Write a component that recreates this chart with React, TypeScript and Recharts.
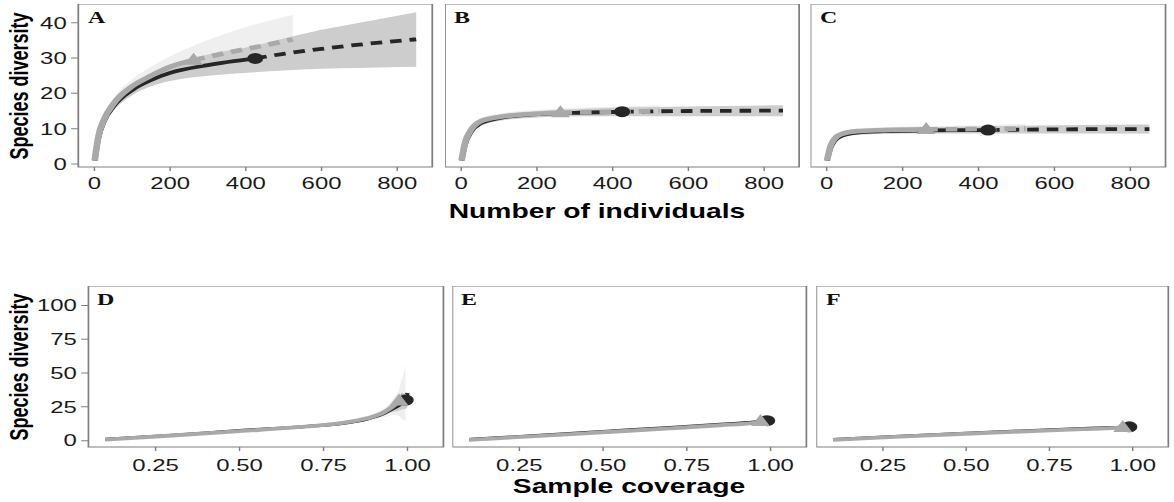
import React from "react";
import { ComposedChart, Line, Area, Scatter, XAxis, YAxis, ReferenceArea } from "recharts";

// the reference is a horizontally stretched ggplot export
const STRETCH = 1.45;
const W = 1174 / STRETCH;
const px = (v: number) => v / STRETCH;

const INK = "#262626";
const GREY = "#a9a9a9";
const BAND_DARK = "#cdcdcd";
const BAND_LIGHT = "#efefef";

// ---- top row: number of individuals ----
const indTicks = [0, 200, 400, 600, 800];
const divTicksTop = [0, 10, 20, 30, 40];

// A
const aBlackX = [1, 10, 25, 50, 100, 150, 200, 300, 425];
const aBlackY = [1, 7, 12, 16.3, 21, 23.8, 25.8, 28, 29.9];
const aBlackExtX = [425, 500, 600, 700, 850];
const aBlackExtY = [29.9, 31.2, 32.6, 33.8, 35.3];
const aBlackBandX = [1, 10, 25, 50, 100, 150, 200, 300, 425, 500, 600, 700, 850];
const aBlackLo = [1, 6.5, 11, 15, 19.5, 22, 23.5, 25, 26, 26.5, 27, 27.2, 27.5];
const aBlackHi = [1, 7.5, 13, 17.5, 22.5, 25.5, 28, 31, 33.5, 35.5, 38, 40, 43];
const aGreyX = [1, 10, 25, 50, 100, 150, 200, 262];
const aGreyY = [1, 7.5, 12.5, 17, 22, 25, 27.5, 29.4];
const aGreyExtX = [262, 350, 450, 524];
const aGreyExtY = [29.4, 31.5, 33.6, 35.3];
const aGreyBandX = [1, 10, 25, 50, 100, 150, 200, 262, 350, 450, 524];
const aGreyLo = [1, 6.5, 11, 15, 19.5, 22, 24, 25.5, 27, 28, 29];
const aGreyHi = [1, 8.5, 13.8, 18.5, 24, 27.5, 30.5, 33.5, 37, 40.3, 42.2];

// B
const bBlackX = [1, 10, 25, 50, 100, 200, 300, 425];
const bBlackY = [1, 5.5, 9, 11.5, 13, 14.1, 14.5, 14.8];
const bBlackExtX = [425, 600, 850];
const bBlackExtY = [14.8, 15, 15.1];
const bBlackBandX = [1, 10, 25, 50, 100, 200, 300, 425, 600, 850];
const bBlackLo = [1, 5, 8.3, 10.7, 12.2, 13.2, 13.5, 13.5, 13.5, 13.5];
const bBlackHi = [1, 6, 9.7, 12.3, 13.8, 15, 15.5, 16, 16.3, 16.6];
const bGreyX = [1, 10, 25, 50, 100, 200, 262];
const bGreyY = [1, 6, 9.5, 12, 13.3, 14.2, 14.5];
const bGreyExtX = [262, 400, 524];
const bGreyExtY = [14.5, 14.8, 15];
const bGreyBandX = [1, 10, 25, 50, 100, 200, 262, 400, 524];
const bGreyLo = [1, 5.3, 8.7, 11, 12.4, 13.3, 13.5, 13.6, 13.7];
const bGreyHi = [1, 6.8, 10.5, 13, 14.3, 15.3, 15.7, 16.2, 16.6];

// C
const cBlackX = [1, 10, 20, 40, 80, 150, 250, 425];
const cBlackY = [1, 4.5, 6.5, 8, 8.9, 9.3, 9.5, 9.6];
const cBlackExtX = [425, 600, 850];
const cBlackExtY = [9.6, 9.8, 9.9];
const cBlackBandX = [1, 10, 20, 40, 80, 150, 250, 425, 600, 850];
const cBlackLo = [1, 4, 6, 7.4, 8.2, 8.5, 8.6, 8.6, 8.6, 8.6];
const cBlackHi = [1, 5, 7, 8.6, 9.6, 10.1, 10.4, 10.7, 11, 11.2];
const cGreyX = [1, 10, 20, 40, 80, 150, 262];
const cGreyY = [1, 5, 7, 8.5, 9.3, 9.6, 9.8];
const cGreyExtX = [262, 400, 524];
const cGreyExtY = [9.8, 9.9, 10];
const cGreyBandX = [1, 10, 20, 40, 80, 150, 262, 400, 524];
const cGreyLo = [1, 4.5, 6.4, 7.8, 8.6, 8.8, 8.9, 8.9, 8.9];
const cGreyHi = [1, 5.5, 7.6, 9.2, 10, 10.4, 10.7, 11, 11.3];

// ---- bottom row: sample coverage ----
const covTicks = [0.25, 0.5, 0.75, 1.0];
const divTicksBottom = [0, 25, 50, 75, 100];

// D
const dBlackX = [0.1, 0.3, 0.5, 0.7, 0.8, 0.88, 0.93, 0.96, 0.98, 0.995];
const dBlackY = [1, 4, 7.5, 10.5, 12.5, 16, 20, 24, 27, 30];
const dBlackExtX = [0.995, 0.998, 1.0];
const dBlackExtY = [30, 33, 35.3];
const dBlackBandX = [0.1, 0.5, 0.7, 0.85, 0.93, 0.95, 0.97, 0.985, 0.998, 1.0];
const dBlackLo = [0.6, 7, 10, 13.5, 19, 21, 22, 23, 24, 25];
const dBlackHi = [1.2, 8, 11, 15.5, 22, 27, 31, 34, 35, 36];
const dGreyX = [0.1, 0.3, 0.5, 0.7, 0.8, 0.88, 0.93, 0.96, 0.975];
const dGreyY = [0.8, 3.8, 7, 10.5, 13, 16.5, 21, 26, 29.4];
const dGreyExtX = [0.975, 0.985, 0.99];
const dGreyExtY = [29.4, 32.5, 35.3];
const dGreyBandX = [0.1, 0.5, 0.7, 0.85, 0.9, 0.94, 0.96, 0.975, 0.985, 0.994];
const dGreyLo = [0.5, 6.5, 9.5, 13.5, 15.5, 18, 19, 18, 16, 14];
const dGreyHi = [1.2, 8, 11.5, 16.5, 20, 26, 32, 38, 47, 56];

// E
const eBlackX = [0.1, 0.3, 0.5, 0.7, 0.85, 0.95, 0.99];
const eBlackY = [0.9, 3.8, 6.8, 9.8, 12.1, 13.8, 14.8];
const eBlackExtX = [0.99, 1.0];
const eBlackExtY = [14.8, 15.1];
const eBlackBandX = [0.1, 0.5, 0.9, 0.99, 1.0];
const eBlackLo = [0.5, 6, 12, 13.8, 14];
const eBlackHi = [1.2, 7.2, 13.8, 15.8, 16.2];
const eGreyX = [0.1, 0.3, 0.5, 0.7, 0.85, 0.95, 0.97];
const eGreyY = [0.6, 3.3, 6.2, 9.1, 11.4, 13.1, 14.2];
const eGreyExtX = [0.97, 0.98];
const eGreyExtY = [14.2, 15];
const eGreyBandX = [0.1, 0.5, 0.9, 0.97, 0.98];
const eGreyLo = [0.3, 5.6, 11.5, 13, 13.3];
const eGreyHi = [1, 6.8, 13.5, 15.5, 16.5];

// F
const fBlackX = [0.1, 0.3, 0.5, 0.7, 0.85, 0.95, 0.99];
const fBlackY = [0.8, 3.2, 5.5, 7.5, 8.9, 9.8, 10.2];
const fBlackExtX = [0.99, 1.0];
const fBlackExtY = [10.2, 10.4];
const fBlackBandX = [0.1, 0.5, 0.9, 0.99, 1.0];
const fBlackLo = [0.4, 5, 8.6, 9.4, 9.5];
const fBlackHi = [1.2, 6, 10, 11, 11.3];
const fGreyX = [0.1, 0.3, 0.5, 0.7, 0.85, 0.95, 0.97];
const fGreyY = [0.5, 2.9, 5.1, 7.1, 8.5, 9.4, 9.7];
const fGreyExtX = [0.97, 0.98];
const fGreyExtY = [9.7, 10.2];
const fGreyBandX = [0.1, 0.5, 0.9, 0.97, 0.98];
const fGreyLo = [0.2, 4.6, 8.1, 8.7, 8.8];
const fGreyHi = [0.9, 5.7, 9.6, 10.7, 11.2];

type Pt = { x: number; y: number };
const pts = (xs: number[], ys: number[]): Pt[] => xs.map((x, i) => ({ x, y: ys[i] }));
const band = (xs: number[], lo: number[], hi: number[]) =>
  xs.map((x, i) => ({ x, range: [lo[i], hi[i]] }));

const ObsDot = (p: any) => <circle cx={p.cx} cy={p.cy} r={5.5} fill={INK} />;
const ObsTri = (p: any) => (
  <path d={`M${p.cx},${p.cy - 7.5} L${p.cx + 6.5},${p.cy + 4.5} L${p.cx - 6.5},${p.cy + 4.5} Z`} fill={GREY} />
);

const tickStyle = { fill: "#1a1a1a", fontSize: 16.5, fontFamily: "'Liberation Sans', Arial, sans-serif" };

interface PanelProps {
  letter: string;
  left: number;
  top: number;
  w: number;
  h: number;
  showY: boolean;
  xDomain: [number, number];
  xTicks: number[];
  yDomain: [number, number];
  yTicks: number[];
  cov?: boolean;
  lineW: number;
  black: Pt[];
  blackExt: Pt[];
  blackBand: { x: number; range: number[] }[];
  grey: Pt[];
  greyExt: Pt[];
  greyBand: { x: number; range: number[] }[];
}

function Panel(p: PanelProps) {
  const yW = p.showY ? 52 : 0;
  const xH = 34;
  const dot = [p.black[p.black.length - 1]];
  const tri = [p.grey[p.grey.length - 1]];
  return (
    <div style={{ position: "absolute", left: p.left - yW, top: p.top }}>
      <ComposedChart
        width={p.w + yW + 2}
        height={p.h + xH}
        margin={{ top: 0, right: 2, bottom: 0, left: 0 }}
      >
        <XAxis
          type="number"
          dataKey="x"
          domain={p.xDomain}
          ticks={p.xTicks}
          allowDataOverflow
          axisLine={false}
          tickLine={{ stroke: "#7f7f7f" }}
          tickSize={4}
          tickMargin={p.cov ? 8 : 6}
          height={xH}
          tick={tickStyle}
          tickFormatter={(v: number) => (p.cov ? v.toFixed(2) : String(v))}
        />
        <YAxis
          type="number"
          domain={p.yDomain}
          ticks={p.yTicks}
          allowDataOverflow
          hide={!p.showY}
          width={yW}
          axisLine={false}
          tickLine={{ stroke: "#7f7f7f" }}
          tickSize={5}
          tickMargin={3}
          tick={tickStyle}
        />
        <Area data={p.greyBand} dataKey="range" type="monotone" stroke="none" fill={BAND_LIGHT} fillOpacity={1} isAnimationActive={false} />
        <Area data={p.blackBand} dataKey="range" type="monotone" stroke="none" fill={BAND_DARK} fillOpacity={1} isAnimationActive={false} />
        <Line data={p.black} dataKey="y" type="monotone" stroke={INK} strokeWidth={p.lineW} dot={false} isAnimationActive={false} />
        <Line data={p.blackExt} dataKey="y" type="monotone" stroke={INK} strokeWidth={p.lineW} strokeDasharray="8 5.5" dot={false} isAnimationActive={false} />
        <Scatter data={dot} dataKey="y" shape={ObsDot} isAnimationActive={false} />
        <Line data={p.grey} dataKey="y" type="monotone" stroke={GREY} strokeWidth={p.lineW + 0.8} dot={false} isAnimationActive={false} />
        <Line data={p.greyExt} dataKey="y" type="monotone" stroke={GREY} strokeWidth={p.lineW + 0.8} strokeDasharray="8 5.5" dot={false} isAnimationActive={false} />
        <Scatter data={tri} dataKey="y" shape={ObsTri} isAnimationActive={false} />
        <ReferenceArea
          x1={p.xDomain[0]}
          x2={p.xDomain[1]}
          y1={p.yDomain[0]}
          y2={p.yDomain[1]}
          fill="none"
          stroke="#7f7f7f"
          strokeWidth={1.2}
          ifOverflow="visible"
        />
      </ComposedChart>
      <div
        style={{
          position: "absolute",
          left: yW + px(9),
          top: 6,
          fontFamily: "'Liberation Serif', 'Times New Roman', serif",
          fontWeight: 700,
          fontSize: 16.5,
          lineHeight: "16px",
          color: "#111",
        }}
      >
        {p.letter}
      </div>
    </div>
  );
}

const topX: [number, number] = [-42.5, 892.5];
const topY: [number, number] = [-0.85, 45.3];
const botX: [number, number] = [0.05, 1.107];
const botY: [number, number] = [-4.7, 114.4];

export default function App() {
  const title = { fontFamily: "'Liberation Sans', Arial, sans-serif", fill: "#000" };
  return (
    <div style={{ position: "absolute", left: 0, top: 0, width: 1174, height: 502, overflow: "hidden", background: "#fff" }}>
      <div style={{ position: "absolute", left: 0, top: 0, width: W, height: 502, transform: `scaleX(${STRETCH})`, transformOrigin: "0 0" }}>
        <Panel letter="A" left={px(79)} top={4} w={px(354)} h={163} showY xDomain={topX} xTicks={indTicks} yDomain={topY} yTicks={divTicksTop} lineW={3.8}
          black={pts(aBlackX, aBlackY)} blackExt={pts(aBlackExtX, aBlackExtY)} blackBand={band(aBlackBandX, aBlackLo, aBlackHi)}
          grey={pts(aGreyX, aGreyY)} greyExt={pts(aGreyExtX, aGreyExtY)} greyBand={band(aGreyBandX, aGreyLo, aGreyHi)} />
        <Panel letter="B" left={px(445)} top={4} w={px(354)} h={163} showY={false} xDomain={topX} xTicks={indTicks} yDomain={topY} yTicks={divTicksTop} lineW={3.8}
          black={pts(bBlackX, bBlackY)} blackExt={pts(bBlackExtX, bBlackExtY)} blackBand={band(bBlackBandX, bBlackLo, bBlackHi)}
          grey={pts(bGreyX, bGreyY)} greyExt={pts(bGreyExtX, bGreyExtY)} greyBand={band(bGreyBandX, bGreyLo, bGreyHi)} />
        <Panel letter="C" left={px(811)} top={4} w={px(355)} h={163} showY={false} xDomain={topX} xTicks={indTicks} yDomain={topY} yTicks={divTicksTop} lineW={3.8}
          black={pts(cBlackX, cBlackY)} blackExt={pts(cBlackExtX, cBlackExtY)} blackBand={band(cBlackBandX, cBlackLo, cBlackHi)}
          grey={pts(cGreyX, cGreyY)} greyExt={pts(cGreyExtX, cGreyExtY)} greyBand={band(cGreyBandX, cGreyLo, cGreyHi)} />
        <Panel letter="D" left={px(88)} top={286} w={px(355)} h={161} showY cov xDomain={botX} xTicks={covTicks} yDomain={botY} yTicks={divTicksBottom} lineW={3}
          black={pts(dBlackX, dBlackY)} blackExt={pts(dBlackExtX, dBlackExtY)} blackBand={band(dBlackBandX, dBlackLo, dBlackHi)}
          grey={pts(dGreyX, dGreyY)} greyExt={pts(dGreyExtX, dGreyExtY)} greyBand={band(dGreyBandX, dGreyLo, dGreyHi)} />
        <Panel letter="E" left={px(452)} top={286} w={px(354)} h={161} showY={false} cov xDomain={botX} xTicks={covTicks} yDomain={botY} yTicks={divTicksBottom} lineW={3}
          black={pts(eBlackX, eBlackY)} blackExt={pts(eBlackExtX, eBlackExtY)} blackBand={band(eBlackBandX, eBlackLo, eBlackHi)}
          grey={pts(eGreyX, eGreyY)} greyExt={pts(eGreyExtX, eGreyExtY)} greyBand={band(eGreyBandX, eGreyLo, eGreyHi)} />
        <Panel letter="F" left={px(817)} top={286} w={px(352)} h={161} showY={false} cov xDomain={botX} xTicks={covTicks} yDomain={botY} yTicks={divTicksBottom} lineW={3}
          black={pts(fBlackX, fBlackY)} blackExt={pts(fBlackExtX, fBlackExtY)} blackBand={band(fBlackBandX, fBlackLo, fBlackHi)}
          grey={pts(fGreyX, fGreyY)} greyExt={pts(fGreyExtX, fGreyExtY)} greyBand={band(fGreyBandX, fGreyLo, fGreyHi)} />
        <svg width={W} height={502} style={{ position: "absolute", left: 0, top: 0, pointerEvents: "none" }}>
          <text x={px(597)} y={218} textAnchor="middle" fontSize={19.5} fontWeight={700} {...title}>
            Number of individuals
          </text>
          <text x={px(629)} y={493} textAnchor="middle" fontSize={19.5} fontWeight={700} {...title}>
            Sample coverage
          </text>
          <text transform={`translate(${px(28)},86) rotate(-90)`} textAnchor="middle" fontSize={18} fontWeight={700} {...title}>
            Species diversity
          </text>
          <text transform={`translate(${px(28)},367) rotate(-90)`} textAnchor="middle" fontSize={18} fontWeight={700} {...title}>
            Species diversity
          </text>
        </svg>
      </div>
    </div>
  );
}
